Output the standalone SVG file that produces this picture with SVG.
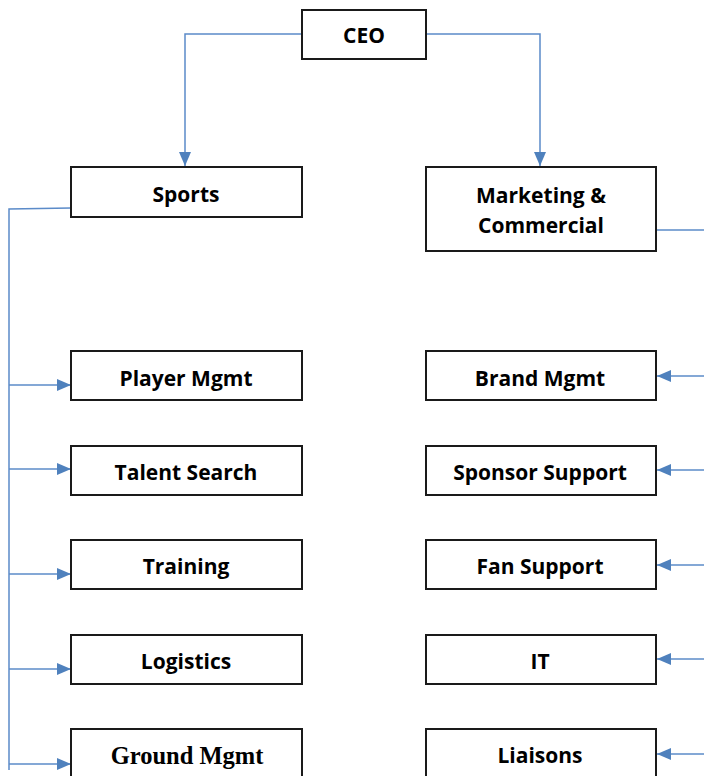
<svg xmlns="http://www.w3.org/2000/svg" width="704" height="776" viewBox="0 0 704 776">
<style>
.box{fill:#fff;stroke:#1a1a1a;stroke-width:2}
.t{font-family:"Open Sans","Liberation Sans",sans-serif;font-weight:bold;font-size:21px;fill:#000;text-anchor:middle;dominant-baseline:central}
.s{font-family:"Liberation Serif","Times New Roman",serif;font-weight:bold;font-size:24.5px;fill:#000;text-anchor:middle;dominant-baseline:central}
.c{fill:none;stroke:#5B8BC9;stroke-width:1.5}
</style>
<defs>
<marker id="ah" viewBox="0 0 14 12" refX="14" refY="6" markerWidth="14" markerHeight="12" markerUnits="userSpaceOnUse" orient="auto">
<path d="M0,0 L14,6 L0,12 Z" fill="#4F81BD"/>
</marker>
</defs>
<g id="connectors">
<path class="c" d="M302,34 H185 V166" marker-end="url(#ah)"/>
<path class="c" d="M426,34 H540 V166" marker-end="url(#ah)"/>
<path class="c" d="M71,208 L9,209 V770"/>
<path class="c" d="M9,385 H71" marker-end="url(#ah)"/>
<path class="c" d="M9,469 H71" marker-end="url(#ah)"/>
<path class="c" d="M9,574 H71" marker-end="url(#ah)"/>
<path class="c" d="M9,669 H71" marker-end="url(#ah)"/>
<path class="c" d="M9,764 H71" marker-end="url(#ah)"/>
<path class="c" d="M656,230 H704"/>
<path class="c" d="M704,376 H657" marker-end="url(#ah)"/>
<path class="c" d="M704,470 H657" marker-end="url(#ah)"/>
<path class="c" d="M704,565 H657" marker-end="url(#ah)"/>
<path class="c" d="M704,659 H657" marker-end="url(#ah)"/>
<path class="c" d="M704,754 H657" marker-end="url(#ah)"/>
</g>
<g id="ceo"><rect class="box" x="302" y="10" width="124" height="49"/><text class="t" x="364" y="35">CEO</text></g>
<g id="sports"><rect class="box" x="71" y="167" width="231" height="50"/><text class="t" x="186" y="194">Sports</text></g>
<g id="marketing"><rect class="box" x="426" y="167" width="230" height="84"/><text class="t" x="541" y="195">Marketing &amp;</text><text class="t" x="541" y="225">Commercial</text></g>
<g id="player"><rect class="box" x="71" y="351" width="231" height="49"/><text class="t" x="186" y="378">Player Mgmt</text></g>
<g id="talent"><rect class="box" x="71" y="446" width="231" height="49"/><text class="t" x="186" y="472">Talent Search</text></g>
<g id="training"><rect class="box" x="71" y="540" width="231" height="49"/><text class="t" x="186" y="566">Training</text></g>
<g id="logistics"><rect class="box" x="71" y="635" width="231" height="49"/><text class="t" x="186" y="661">Logistics</text></g>
<g id="ground"><rect class="box" x="71" y="729" width="231" height="60"/><text class="s" x="187" y="755">Ground Mgmt</text></g>
<g id="brand"><rect class="box" x="426" y="351" width="230" height="49"/><text class="t" x="540" y="378">Brand Mgmt</text></g>
<g id="sponsor"><rect class="box" x="426" y="446" width="230" height="49"/><text class="t" x="540" y="472">Sponsor Support</text></g>
<g id="fan"><rect class="box" x="426" y="540" width="230" height="49"/><text class="t" x="540" y="566">Fan Support</text></g>
<g id="it"><rect class="box" x="426" y="635" width="230" height="49"/><text class="t" x="540" y="661">IT</text></g>
<g id="liaisons"><rect class="box" x="426" y="729" width="230" height="60"/><text class="t" x="540" y="755">Liaisons</text></g>
</svg>
